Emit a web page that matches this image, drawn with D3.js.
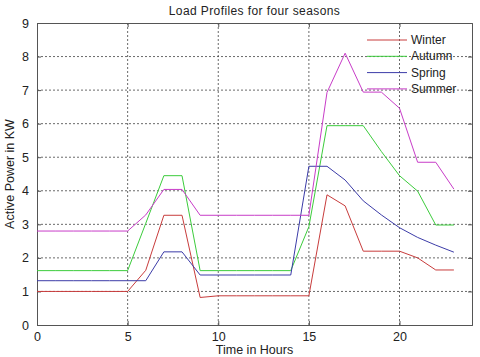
<!DOCTYPE html>
<html>
<head>
<meta charset="utf-8">
<script src="https://cdn.jsdelivr.net/npm/d3@7"></script>
<style>
  body { margin: 0; background: #fff; }
  svg { font-family: "Liberation Sans", Arial, sans-serif; }
</style>
</head>
<body>
<svg id="chart" width="480" height="357"></svg>
<script>
// hours 0..23
const hours = d3.range(0, 24);
const winter = [1, 1, 1, 1, 1, 1, 1.63, 3.27, 3.27, 0.82, 0.87, 0.87, 0.87, 0.87, 0.87, 0.87,
  3.88, 3.55, 2.2, 2.2, 2.2, 2.0, 1.64, 1.64];
const autumn = [1.62, 1.62, 1.62, 1.62, 1.62, 1.62, 3.03, 4.45, 4.45, 1.62, 1.62, 1.62, 1.62, 1.62, 1.62, 2.93,
  5.94, 5.94, 5.94, 5.17, 4.45, 3.99, 2.98, 2.98];
const spring = [1.32, 1.32, 1.32, 1.32, 1.32, 1.32, 1.32, 2.18, 2.18, 1.49, 1.49, 1.49, 1.49, 1.49, 1.49, 4.73,
  4.73, 4.32, 3.7, 3.28, 2.9, 2.61, 2.38, 2.17];
const summer = [2.8, 2.8, 2.8, 2.8, 2.8, 2.8, 3.28, 4.04, 4.04, 3.27, 3.27, 3.27, 3.27, 3.27, 3.27, 3.27,
  6.93, 8.1, 6.94, 6.94, 6.46, 4.85, 4.85, 4.05];
const seriesNames = ["Winter", "Autumn", "Spring", "Summer"];
const seriesColors = ["#c83c3c", "#3ccc3c", "#3c3ca8", "#c83cc8"];
const xTicks = [0, 5, 10, 15, 20];
const yTicks = [0, 1, 2, 3, 4, 5, 6, 7, 8, 9];

const svg = d3.select("#chart");
const pLeft = 37, pRight = 472, pTop = 23, pBottom = 325;

const x = d3.scaleLinear().domain([0, 24]).range([pLeft, pRight]);
const y = d3.scaleLinear().domain([0, 9]).range([pBottom, pTop]);

// grid
const grid = svg.append("g");
grid.selectAll(".gx").data(xTicks.filter(d => d > 0)).enter().append("line")
  .attr("x1", d => x(d)).attr("x2", d => x(d))
  .attr("y1", pTop).attr("y2", pBottom)
  .attr("stroke", "#444").attr("stroke-width", 0.8).attr("stroke-dasharray", "2,2");
grid.selectAll(".gy").data(yTicks.filter(d => d > 0 && d < 9)).enter().append("line")
  .attr("x1", pLeft).attr("x2", pRight)
  .attr("y1", d => y(d)).attr("y2", d => y(d))
  .attr("stroke", "#444").attr("stroke-width", 0.8).attr("stroke-dasharray", "2,2");

// axes, matlab style inward ticks
const xAxis = svg.append("g")
  .attr("transform", "translate(0," + pBottom + ")")
  .call(d3.axisBottom(x).tickValues(xTicks).tickSize(-4).tickPadding(7));
const yAxis = svg.append("g")
  .attr("transform", "translate(" + pLeft + ",0)")
  .call(d3.axisLeft(y).tickValues(yTicks).tickSize(-4).tickPadding(8));
svg.append("g").attr("transform", "translate(0," + pTop + ")")
  .call(d3.axisTop(x).tickValues(xTicks).tickSize(-4).tickFormat(""));
svg.append("g").attr("transform", "translate(" + pRight + ",0)")
  .call(d3.axisRight(y).tickValues(yTicks).tickSize(-4).tickFormat(""));
svg.selectAll(".domain").attr("stroke", "#555");
svg.selectAll(".tick line").attr("stroke", "#555");
[xAxis, yAxis].forEach(a => a.selectAll("text")
  .attr("font-size", "12.5px").attr("fill", "#222")
  .attr("font-family", "Liberation Sans, Arial, sans-serif"));

// lines
const allSeries = [winter, autumn, spring, summer];
const line = d3.line().x((d, i) => x(hours[i])).y(d => y(d));
allSeries.forEach((s, k) => {
  svg.append("path")
    .datum(s)
    .attr("fill", "none")
    .attr("stroke", seriesColors[k])
    .attr("stroke-width", 1)
    .attr("d", line);
});

// legend
const legend = svg.append("g");
seriesNames.forEach((n, k) => {
  const ly = 40 + k * 16.3;
  legend.append("line")
    .attr("x1", 367).attr("x2", 407).attr("y1", ly).attr("y2", ly)
    .attr("stroke", seriesColors[k]).attr("stroke-width", 1);
  legend.append("text")
    .attr("x", 411).attr("y", ly + 4)
    .attr("font-size", "12px").attr("fill", "#222")
    .text(n);
});

// title + labels
svg.append("text")
  .attr("x", (pLeft + pRight) / 2).attr("y", 15)
  .attr("text-anchor", "middle").attr("font-size", "12px").attr("fill", "#222")
  .attr("letter-spacing", "0.4px")
  .text("Load Profiles for four seasons");
svg.append("text")
  .attr("x", (pLeft + pRight) / 2).attr("y", 354)
  .attr("text-anchor", "middle").attr("font-size", "12.5px").attr("fill", "#222")
  .text("Time in Hours");
svg.append("text")
  .attr("transform", "translate(14," + ((pTop + pBottom) / 2) + ") rotate(-90)")
  .attr("text-anchor", "middle").attr("font-size", "12.5px").attr("fill", "#222")
  .text("Active Power in KW");
</script>
</body>
</html>
